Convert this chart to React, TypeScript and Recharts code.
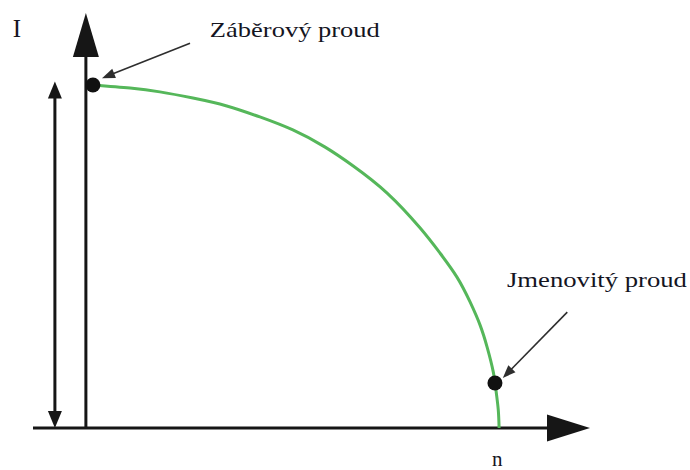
import { ComposedChart, Line, Scatter, XAxis, YAxis, ReferenceLine, ReferenceDot } from 'recharts';

// otáčky n (relativní) a proud I (relativní)
const curveN = [1.7, 10.7, 17.9, 25.9, 34.1, 42.1, 50.1, 57.9, 64.7, 72.9, 80.9, 85.7, 89.8, 93.0, 95.4, 97.1, 98.6, 99.3, 99.8, 100];
const curveI = [100, 99.1, 98.0, 96.2, 93.9, 90.7, 86.9, 81.9, 76.4, 68.5, 58.3, 51.0, 44.0, 36.7, 30.0, 23.6, 16.3, 10.5, 5.3, 0];

const pointNames = ['Záběrový proud', 'Jmenovitý proud'];
const pointN = [1.7, 99.0];
const pointI = [100, 13.1];

const axisLabels = ['I', 'n'];

const X_DOMAIN: [number, number] = [-12.8, 122];
const Y_DOMAIN: [number, number] = [0, 121];

const curve = curveN.map((n, i) => ({ n, I: curveI[i] }));
const points = pointN.map((n, i) => ({ n, I: pointI[i], name: pointNames[i] }));

const FONT = '"Liberation Serif", "Times New Roman", serif';

type ArrowOpts = { head: number; half: number; width: number; color: string; both?: boolean };

function arrowShape({ head, half, width, color, both }: ArrowOpts) {
  return (p: any) => {
    const { x1, y1, x2, y2 } = p;
    const dx = x2 - x1;
    const dy = y2 - y1;
    const len = Math.hypot(dx, dy) || 1;
    const ux = dx / len;
    const uy = dy / len;
    const px = -uy;
    const py = ux;
    const tri = (tx: number, ty: number, dx2: number, dy2: number) => {
      const bx = tx - dx2 * head;
      const by = ty - dy2 * head;
      return `${tx},${ty} ${bx + px * half},${by + py * half} ${bx - px * half},${by - py * half}`;
    };
    const sx = both ? x1 + ux * head * 0.8 : x1;
    const sy = both ? y1 + uy * head * 0.8 : y1;
    const ex = x2 - ux * head * 0.8;
    const ey = y2 - uy * head * 0.8;
    return (
      <g>
        <line x1={sx} y1={sy} x2={ex} y2={ey} stroke={color} strokeWidth={width} />
        <polygon points={tri(x2, y2, ux, uy)} fill={color} />
        {both && <polygon points={tri(x1, y1, -ux, -uy)} fill={color} />}
      </g>
    );
  };
}

function textShape(text: string, size: number, length?: number) {
  return (p: any) => (
    <text
      x={p.cx}
      y={p.cy}
      fontFamily={FONT}
      fontSize={size}
      fill="#15151f"
      textLength={length}
      lengthAdjust={length ? 'spacingAndGlyphs' : undefined}
    >
      {text}
    </text>
  );
}

export default function App() {
  return (
    <div style={{ position: 'absolute', left: 0, top: 0, background: '#fff' }}>
      <ComposedChart width={690} height={470} margin={{ top: 13, right: 100, bottom: 42, left: 33 }}>
        <XAxis type="number" dataKey="n" domain={X_DOMAIN} allowDataOverflow hide />
        <YAxis type="number" dataKey="I" domain={Y_DOMAIN} allowDataOverflow hide />

        {/* osy se šipkami */}
        <ReferenceLine
          segment={[{ x: 0, y: 0 }, { x: 0, y: Y_DOMAIN[1] }]}
          ifOverflow="visible"
          shape={arrowShape({ head: 44, half: 13, width: 3, color: '#161616' })}
        />
        <ReferenceLine
          segment={[{ x: X_DOMAIN[0], y: 0 }, { x: X_DOMAIN[1], y: 0 }]}
          ifOverflow="visible"
          shape={arrowShape({ head: 43, half: 13.5, width: 3, color: '#161616' })}
        />
        {/* rozsah proudu */}
        <ReferenceLine
          segment={[{ x: -7.5, y: 0 }, { x: -7.5, y: 101 }]}
          ifOverflow="visible"
          shape={arrowShape({ head: 17, half: 7, width: 3, color: '#161616', both: true })}
        />
        {/* popisky bodů */}
        <ReferenceLine
          segment={[{ x: 25.2, y: 112.2 }, { x: 3.9, y: 102 }]}
          ifOverflow="visible"
          shape={arrowShape({ head: 13, half: 5, width: 1.6, color: '#2e2e2e' })}
        />
        <ReferenceLine
          segment={[{ x: 116.5, y: 33.8 }, { x: 100.9, y: 14.6 }]}
          ifOverflow="visible"
          shape={arrowShape({ head: 13, half: 5, width: 1.6, color: '#2e2e2e' })}
        />

        <Line
          data={curve}
          dataKey="I"
          type="natural"
          stroke="#55b75a"
          strokeWidth={3}
          dot={false}
          isAnimationActive={false}
        />
        <Scatter
          data={points}
          dataKey="I"
          fill="#111"
          isAnimationActive={false}
          shape={(p: any) => <circle cx={p.cx} cy={p.cy} r={7.5} fill="#111" />}
        />

        <ReferenceDot x={-17.7} y={114} r={0} ifOverflow="visible" shape={textShape(axisLabels[0], 25)} />
        <ReferenceDot x={98.3} y={-11.1} r={0} ifOverflow="visible" shape={textShape(axisLabels[1], 21)} />
        <ReferenceDot x={30} y={114} r={0} ifOverflow="visible" shape={textShape(pointNames[0], 21, 170)} />
        <ReferenceDot x={101.9} y={41} r={0} ifOverflow="visible" shape={textShape(pointNames[1], 21, 180)} />
      </ComposedChart>
    </div>
  );
}
